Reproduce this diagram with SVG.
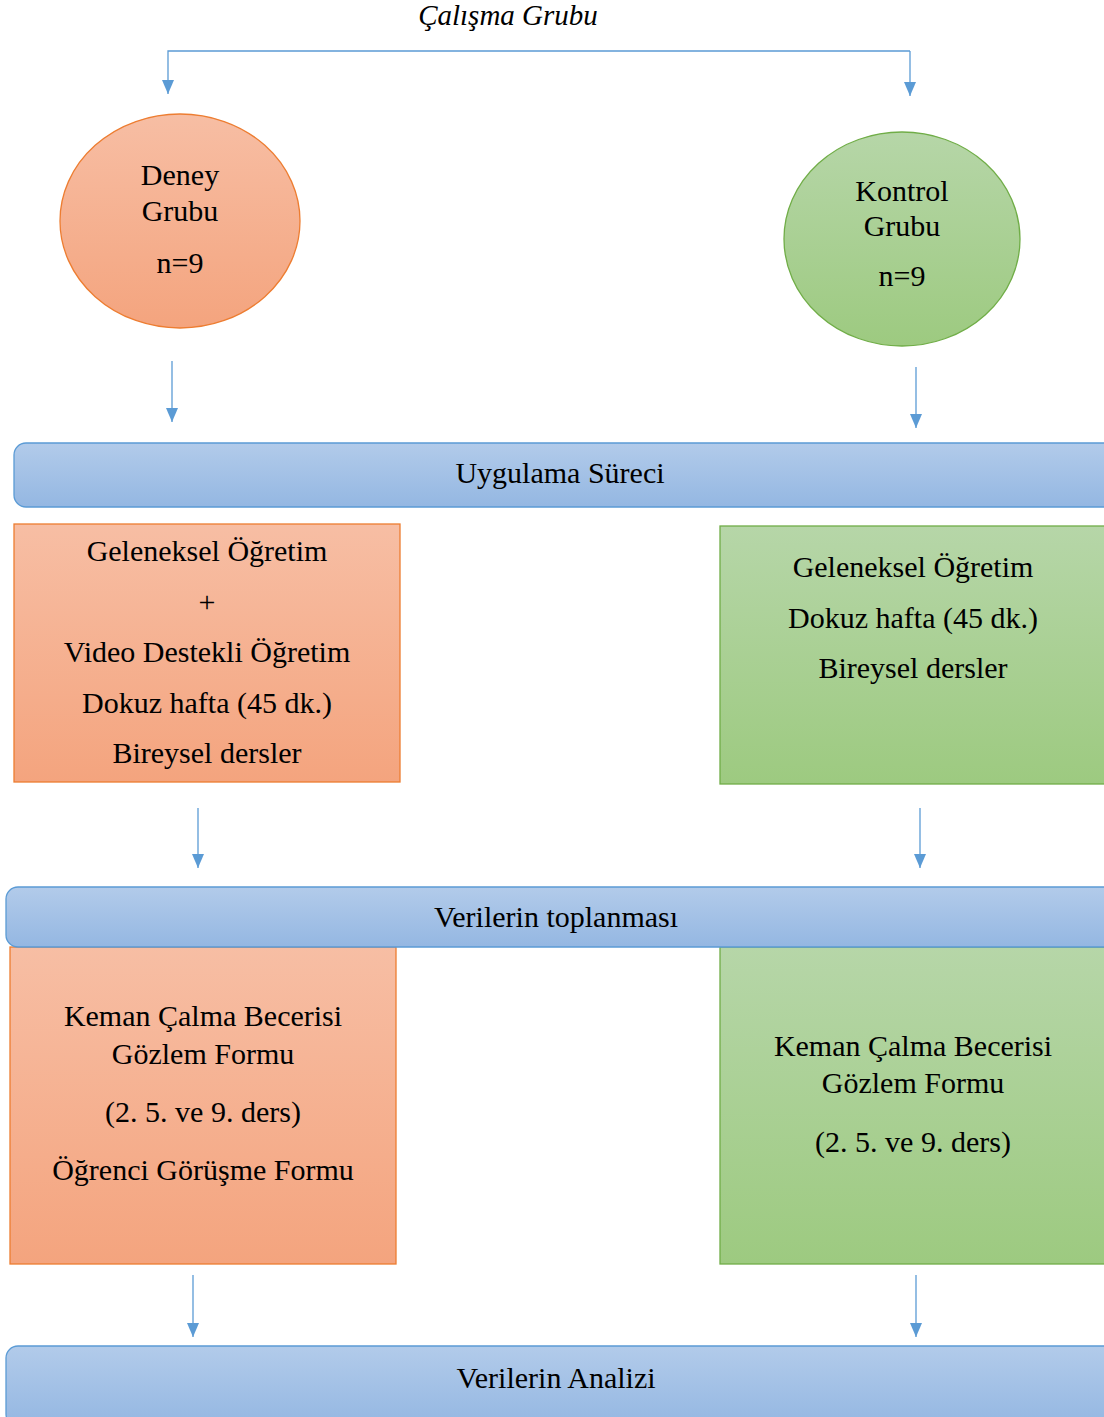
<svg xmlns="http://www.w3.org/2000/svg" width="1104" height="1417" viewBox="0 0 1104 1417">
<style>
text{font-family:"Liberation Serif","DejaVu Serif",serif;font-size:30px;fill:#000;text-anchor:middle}
.conn{stroke:#5b9bd5;stroke-width:1.3;fill:none}
.org{fill:url(#gO);stroke:#ed7d31;stroke-width:1.3}
.grn{fill:url(#gG);stroke:#70ad47;stroke-width:1.3}
.bar{fill:url(#gB);stroke:#5b9bd5;stroke-width:1.3}
</style>
<defs>
<linearGradient id="gO" x1="0" y1="0" x2="0" y2="1"><stop offset="0" stop-color="#f7bea4"/><stop offset="1" stop-color="#f4a47e"/></linearGradient>
<linearGradient id="gG" x1="0" y1="0" x2="0" y2="1"><stop offset="0" stop-color="#b6d6a8"/><stop offset="1" stop-color="#9dca80"/></linearGradient>
<linearGradient id="gB" x1="0" y1="0" x2="0" y2="1"><stop offset="0" stop-color="#b2cbea"/><stop offset="1" stop-color="#94b7e2"/></linearGradient>
<marker id="ah" viewBox="0 0 14 12" refX="14" refY="6" markerWidth="14" markerHeight="12" markerUnits="userSpaceOnUse" orient="auto">
<path d="M0,0 L14,6 L0,12 Z" fill="#5b9bd5"/>
</marker>
</defs>
<text x="508" y="25" style="font-style:italic;font-size:29px">Çalışma Grubu</text>
<g id="connectors">
<path class="conn" d="M910,51 H168 V94" marker-end="url(#ah)"/>
<path class="conn" d="M910,51 V96" marker-end="url(#ah)"/>
<path class="conn" d="M172,361 V422" marker-end="url(#ah)"/>
<path class="conn" d="M916,367 V428" marker-end="url(#ah)"/>
<path class="conn" d="M198,808 V868" marker-end="url(#ah)"/>
<path class="conn" d="M920,808 V868" marker-end="url(#ah)"/>
<path class="conn" d="M193,1275 V1337" marker-end="url(#ah)"/>
<path class="conn" d="M916,1275 V1337" marker-end="url(#ah)"/>
</g>
<g id="deney">
<ellipse class="org" cx="180" cy="221" rx="120" ry="107"/>
<text x="180" y="185">Deney</text>
<text x="180" y="221">Grubu</text>
<text x="180" y="273">n=9</text>
</g>
<g id="kontrol">
<ellipse class="grn" cx="902" cy="239" rx="118" ry="107"/>
<text x="902" y="201">Kontrol</text>
<text x="902" y="236">Grubu</text>
<text x="902" y="286">n=9</text>
</g>
<g id="uygulama">
<rect class="bar" x="14" y="443" width="1104" height="64" rx="12"/>
<text x="560" y="483">Uygulama Süreci</text>
</g>
<g id="deney-uygulama">
<rect class="org" x="14" y="524" width="386" height="258"/>
<text x="207" y="561">Geleneksel Öğretim</text>
<text x="207" y="612">+</text>
<text x="207" y="662">Video Destekli Öğretim</text>
<text x="207" y="713">Dokuz hafta (45 dk.)</text>
<text x="207" y="763">Bireysel dersler</text>
</g>
<g id="kontrol-uygulama">
<rect class="grn" x="720" y="526" width="400" height="258"/>
<text x="913" y="577">Geleneksel Öğretim</text>
<text x="913" y="628">Dokuz hafta (45 dk.)</text>
<text x="913" y="678">Bireysel dersler</text>
</g>
<g id="deney-veri">
<rect class="org" x="10" y="947" width="386" height="317"/>
<text x="203" y="1026">Keman Çalma Becerisi</text>
<text x="203" y="1064">Gözlem Formu</text>
<text x="203" y="1122">(2. 5. ve 9. ders)</text>
<text x="203" y="1180">Öğrenci Görüşme Formu</text>
</g>
<g id="kontrol-veri">
<rect class="grn" x="720" y="947" width="400" height="317"/>
<text x="913" y="1056">Keman Çalma Becerisi</text>
<text x="913" y="1093">Gözlem Formu</text>
<text x="913" y="1152">(2. 5. ve 9. ders)</text>
</g>
<g id="toplanma">
<rect class="bar" x="6" y="887" width="1112" height="60" rx="12"/>
<text x="556" y="927">Verilerin toplanması</text>
</g>
<g id="analiz">
<rect class="bar" x="6" y="1346" width="1112" height="80" rx="12"/>
<text x="556" y="1388">Verilerin Analizi</text>
</g>
</svg>
